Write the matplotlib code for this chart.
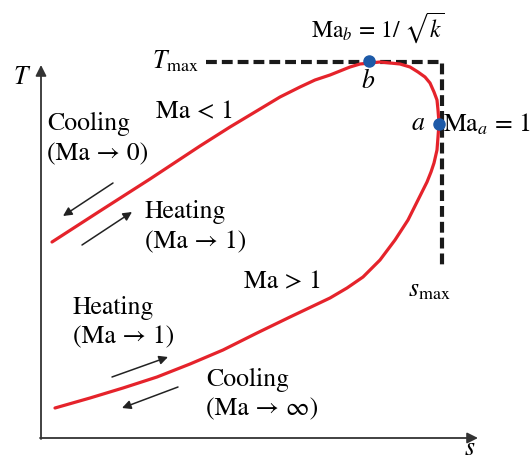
import matplotlib
matplotlib.use("Agg")
import matplotlib.pyplot as plt

plt.rcParams["font.family"] = "STIXGeneral"
plt.rcParams["mathtext.fontset"] = "stix"

# Rayleigh line: s (entropy) and T (temperature), arbitrary units
s_curve = [11, 59, 109, 159, 189, 214, 239, 259, 274, 289, 299, 309, 319, 329, 339,
           349, 359, 369, 377, 384, 389, 393, 396, 397, 398, 397, 396, 393, 390, 386,
           377, 367, 354, 339, 322, 306, 289, 249, 216, 182, 149, 116, 82, 49, 14]
T_curve = [196, 227, 259, 292, 311, 326, 341, 351, 358, 363, 367, 371, 374, 375, 376,
           375, 374, 371, 366, 361, 355, 346, 338, 328, 315, 301, 288, 275, 266, 256,
           238, 218, 198, 178, 161, 150, 140, 121, 105, 88, 74, 61, 50, 40, 30]

# points a (Ma = 1) and b (Ma = 1/sqrt(k))
pt_s = [398, 328]
pt_T = [314, 377]

# limits
T_max = 376
s_max = 401
s_dash_start = 165
T_dash_end = 171

# small heating / cooling arrows (tail s, tail T, head s, head T)
arrows = [
    (72, 255, 22, 222),   # cooling, subsonic
    (41, 193, 91, 226),   # heating, subsonic
    (71, 61, 127, 81),    # heating, supersonic
    (137, 51, 81, 30),    # cooling, supersonic
]

red = "#e5232b"
blue = "#1d5aa8"
fs = 18.5

fig = plt.figure(figsize=(5.31, 4.61), dpi=100)
ax = fig.add_axes([0, 0, 1, 1])
ax.set_xlim(-41, 490)
ax.set_ylim(-23, 438)
ax.axis("off")

# T-s axes
ax.annotate("", xy=(0, 373), xytext=(0, -1),
            arrowprops=dict(arrowstyle="-|>", color="#333333", lw=1.3,
                            mutation_scale=16, shrinkA=0, shrinkB=0))
ax.annotate("", xy=(437, 0), xytext=(-1, 0),
            arrowprops=dict(arrowstyle="-|>", color="#333333", lw=1.3,
                            mutation_scale=16, shrinkA=0, shrinkB=0))

# dashed T_max / s_max lines
ax.plot([s_dash_start, s_max, s_max], [T_max, T_max, T_dash_end],
        color="#1a1a1a", lw=3, dashes=(2.6, 1.2), solid_capstyle="butt", zorder=2)

# the curve
ax.plot(s_curve, T_curve, color=red, lw=2.3, zorder=3,
        solid_capstyle="round", solid_joinstyle="round")
ax.plot(pt_s, pt_T, "o", color=blue, ms=8, zorder=4)

for s0, t0, s1, t1 in arrows:
    ax.annotate("", xy=(s1, t1), xytext=(s0, t0),
                arrowprops=dict(arrowstyle="-|>", color="#222222", lw=1.1,
                                mutation_scale=13, shrinkA=0, shrinkB=0))

# labels
ax.text(-19, 360, r"$T$", fontsize=fs, ha="center", va="center")
ax.text(429, -11, r"$s$", fontsize=fs, ha="center", va="center")
ax.text(158, 376, r"$T_{\rm max}$", fontsize=fs, ha="right", va="center")
ax.text(337, 410, r"Ma$_b$ = 1/ $\sqrt{k}$", fontsize=17, ha="center", va="center")
ax.text(327, 356, r"$b$", fontsize=fs, ha="center", va="center")
ax.text(377, 314, r"$a$", fontsize=fs, ha="center", va="center")
ax.text(402, 313, r"Ma$_a$ = 1", fontsize=fs, ha="left", va="center")
ax.text(154, 326, "Ma < 1", fontsize=fs, ha="center", va="center")
ax.text(242, 156, "Ma > 1", fontsize=fs, ha="center", va="center")
ax.text(388, 148, r"$s_{\rm max}$", fontsize=fs, ha="center", va="center")

ax.text(6, 314, "Cooling", fontsize=fs, ha="left", va="center")
ax.text(6, 284, "(Ma → 0)", fontsize=fs, ha="left", va="center")
ax.text(104, 226, "Heating", fontsize=fs, ha="left", va="center")
ax.text(104, 196, "(Ma → 1)", fontsize=fs, ha="left", va="center")
ax.text(32, 130, "Heating", fontsize=fs, ha="left", va="center")
ax.text(32, 101, "(Ma → 1)", fontsize=fs, ha="left", va="center")
ax.text(165, 58, "Cooling", fontsize=fs, ha="left", va="center")
ax.text(165, 29, "(Ma → ∞)", fontsize=fs, ha="left", va="center")

fig.savefig("out.png", dpi=100)
